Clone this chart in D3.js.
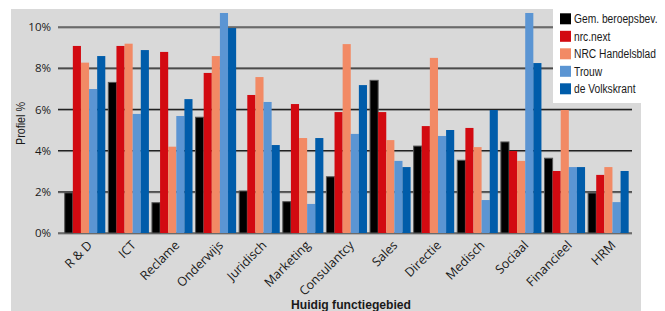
<!DOCTYPE html>
<html><head><meta charset="utf-8">
<script src="https://cdn.jsdelivr.net/npm/d3@7/dist/d3.min.js"></script>
<style>
html,body{margin:0;padding:0;background:#fff;}
svg{display:block;}
text{font-family:"Open Sans","Liberation Sans",sans-serif;fill:#1a1a1a;}
</style></head>
<body><svg id="c" width="665" height="311"></svg>
<script>
const categories = ["R & D","ICT","Reclame","Onderwijs","Juridisch","Marketing","Consulantcy","Sales","Directie","Medisch","Sociaal","Financieel","HRM"];
const seriesNames = ["Gem. beroepsbev.","nrc.next","NRC Handelsblad","Trouw","de Volkskrant"];
const gemBeroepsbev = [1.95,7.31,1.47,5.62,2.04,1.52,2.73,7.41,4.22,3.53,4.42,3.63,1.94];
const nrcNext       = [9.08,9.08,8.79,7.77,6.70,6.26,5.87,5.87,5.19,5.10,3.98,3.01,2.82];
const nrcHandelsblad= [8.27,9.19,4.19,8.59,7.57,4.61,9.17,4.51,8.50,4.17,3.50,5.97,3.20];
const trouw         = [6.99,5.78,5.68,10.68,6.36,1.41,4.81,3.50,4.71,1.60,10.68,3.20,1.50];
const volkskrant    = [8.59,8.88,6.50,9.95,4.27,4.61,7.18,3.20,5.00,5.97,8.25,3.20,3.01];
const yTicks = [0,2,4,6,8,10];
const colors = ["#000000","#d20a11","#f28a65","#5b95d3","#005caa"];

const seriesValues = [gemBeroepsbev,nrcNext,nrcHandelsblad,trouw,volkskrant];
const svg = d3.select("#c");

svg.append("rect").attr("x",11).attr("y",9).attr("width",630).attr("height",302).attr("fill","#d9d9d9");

const x = d3.scaleBand().domain(categories).range([63.2,630.2]).paddingInner(0.07).paddingOuter(0.035);
const xs = d3.scaleBand().domain(seriesNames).range([0,x.bandwidth()]);
const y = d3.scaleLinear().domain([0,10]).range([233,27]);

// gridlines
const grid = svg.append("g");
yTicks.forEach(t=>{
  grid.append("line").attr("x1",58).attr("x2",632).attr("y1",y(t)+1).attr("y2",y(t)+1).attr("stroke","#8a8a8a").attr("stroke-width",1);
  grid.append("line").attr("x1",58).attr("x2",632).attr("y1",y(t)).attr("y2",y(t)).attr("stroke","#222").attr("stroke-width",1.2);
});

// y axis labels
const yAxis = d3.axisLeft(y).tickValues(yTicks).tickFormat(d=>d+"%").tickSize(0).tickPadding(7);
const ya = svg.append("g").attr("transform","translate(58,0)").call(yAxis);
ya.select(".domain").remove();
ya.selectAll("text").style("font-size","11.5px").style("font-family","'Open Sans',sans-serif").attr("fill","#1a1a1a");

// bars
const g = svg.append("g");
categories.forEach((c,i)=>{
  seriesNames.forEach((s,j)=>{
    const v = seriesValues[j][i];
    g.append("rect")
      .attr("x",x(c)+xs(s))
      .attr("y",y(v))
      .attr("width",xs.bandwidth())
      .attr("height",y(0)-y(v))
      .attr("fill",colors[j])
      .attr("stroke",j===0?"#555":"none")
      .attr("stroke-width",j===0?1:0);
  });
});

// x axis labels
const xa = svg.append("g");
categories.forEach(c=>{
  xa.append("text")
    .attr("transform",`translate(${x(c)+x.bandwidth()/2+8},246) rotate(-45)`)
    .attr("text-anchor","end")
    .style("font-size","12.5px")
    .text(c);
});

// axis titles
svg.append("text").attr("transform","translate(24.5,123.5) rotate(-90)").attr("text-anchor","middle")
  .style("font-family","'Liberation Sans',sans-serif").style("font-size","12.5px")
  .attr("textLength",43).attr("lengthAdjust","spacingAndGlyphs").text("Profiel %");
svg.append("text").attr("x",351).attr("y",308.5).attr("text-anchor","middle")
  .style("font-family","'Liberation Sans',sans-serif").style("font-size","12.5px").style("font-weight","bold")
  .attr("textLength",120).attr("lengthAdjust","spacingAndGlyphs").text("Huidig functiegebied");

// legend
svg.append("rect").attr("x",553).attr("y",0).attr("width",112).attr("height",103).attr("fill","#fff");
const lg = svg.append("g");
seriesNames.forEach((s,j)=>{
  const ty = 13.3 + j*17.5;
  lg.append("rect").attr("x",560).attr("y",ty).attr("width",11).attr("height",11).attr("fill",colors[j]);
  lg.append("text").attr("transform",`translate(574,${ty+10}) scale(0.82,1)`)
    .style("font-family","'Liberation Sans',sans-serif").style("font-size","12.5px")
    .attr("fill",j===1?"#d20a11":"#1a1a1a").text(s);
});
</script></body></html>
